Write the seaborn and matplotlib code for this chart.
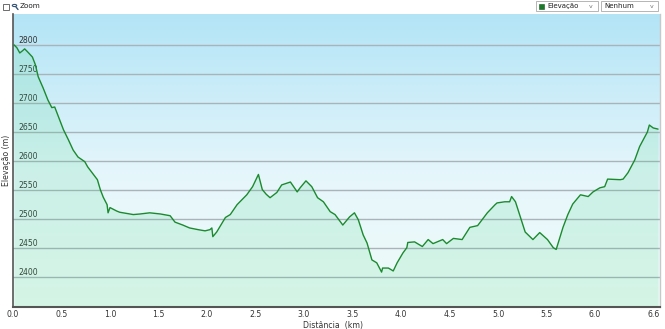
import numpy as np
import pandas as pd
import matplotlib
matplotlib.use("Agg")
import matplotlib.pyplot as plt
from matplotlib.patches import Rectangle, Circle
from matplotlib.lines import Line2D
import seaborn as sns

# ---- data ----
distance_km = [0.01, 0.04, 0.07, 0.10, 0.12, 0.15, 0.20, 0.23, 0.26, 0.31, 0.36, 0.40, 0.43, 0.46,
               0.52, 0.57, 0.62, 0.67, 0.74, 0.77, 0.87, 0.90, 0.93, 0.97, 0.98, 1.00, 1.07, 1.10,
               1.24, 1.31, 1.41, 1.52, 1.62, 1.67, 1.75, 1.82, 1.91, 1.98, 2.03, 2.05, 2.06, 2.10,
               2.19, 2.24, 2.31, 2.41, 2.47, 2.53, 2.57, 2.61, 2.65, 2.72, 2.77, 2.86, 2.93, 2.96,
               3.02, 3.08, 3.14, 3.20, 3.27, 3.32, 3.40, 3.47, 3.52, 3.56, 3.61, 3.65, 3.70, 3.75,
               3.80, 3.81, 3.87, 3.92, 3.96, 4.02, 4.06, 4.07, 4.14, 4.22, 4.28, 4.33, 4.43, 4.47,
               4.54, 4.63, 4.71, 4.79, 4.89, 4.97, 4.99, 5.07, 5.12, 5.14, 5.18, 5.23, 5.28, 5.36,
               5.43, 5.51, 5.57, 5.60, 5.67, 5.72, 5.77, 5.85, 5.93, 5.98, 6.05, 6.10, 6.13, 6.26,
               6.29, 6.34, 6.41, 6.46, 6.54, 6.56, 6.60, 6.65]
elevation_m = [2800, 2795, 2786, 2790, 2793, 2788, 2779, 2766, 2745, 2726, 2705, 2692, 2693, 2680,
               2654, 2637, 2619, 2607, 2599, 2590, 2568, 2551, 2538, 2525, 2511, 2520, 2514, 2512,
               2508, 2509, 2511, 2509, 2506, 2495, 2490, 2485, 2482, 2480, 2482, 2485, 2470, 2478,
               2503, 2508, 2525, 2542, 2556, 2577, 2551, 2543, 2537, 2546, 2559, 2564, 2547, 2554,
               2566, 2556, 2537, 2530, 2513, 2508, 2490, 2504, 2511, 2499, 2473, 2459, 2430, 2425,
               2409, 2416, 2416, 2411, 2425, 2442, 2451, 2460, 2461, 2453, 2465, 2458, 2465, 2458,
               2467, 2465, 2486, 2489, 2511, 2525, 2528, 2530, 2530, 2539, 2530, 2504, 2478, 2465,
               2477, 2465, 2451, 2448, 2486, 2508, 2526, 2542, 2539, 2547, 2554, 2556, 2569, 2568,
               2569, 2580, 2602, 2625, 2650, 2662, 2657, 2655]
x_ticks = [0.0, 0.5, 1.0, 1.5, 2.0, 2.5, 3.0, 3.5, 4.0, 4.5, 5.0, 5.5, 6.0, 6.6]
x_tick_labels = ["0.0", "0.5", "1.0", "1.5", "2.0", "2.5", "3.0", "3.5", "4.0", "4.5",
                 "5.0", "5.5", "6.0", "6.6"]
y_ticks = [2400, 2450, 2500, 2550, 2600, 2650, 2700, 2750, 2800]

df = pd.DataFrame({"Distância (km)": distance_km, "Elevação (m)": elevation_m})

sns.set_theme(style="white")
plt.rcParams["font.family"] = ["DejaVu Sans"]

fig = plt.figure(figsize=(6.65, 3.29), dpi=100)
fig.patch.set_facecolor("white")
ax = fig.add_axes([13 / 665, 22 / 329, 647 / 665, 293 / 329])

xmin, xmax = 0.0, 6.67
ymin, ymax = 2349, 2853
ax.set_xlim(xmin, xmax)
ax.set_ylim(ymin, ymax)

# background gradient (sky blue on top, very pale lower down)
stops = np.array([0.0, 0.55, 1.0])
cols = np.array([[0.70, 0.895, 0.965],
                 [0.90, 0.965, 0.985],
                 [0.94, 0.985, 0.975]])
t = np.linspace(0, 1, 256)
grad = np.stack([np.interp(t, stops, cols[:, k]) for k in range(3)], axis=1)
ax.imshow(grad[:, None, :], extent=[xmin, xmax, ymin, ymax], aspect="auto",
          origin="upper", zorder=0)

# grid lines
for yv in y_ticks:
    ax.axhline(yv, color="#a9b3ba", lw=1.0, zorder=1)

# area under curve
ax.fill_between(df["Distância (km)"], ymin, df["Elevação (m)"], color="#3ed47e",
                alpha=0.15, lw=0, zorder=2)
sns.lineplot(data=df, x="Distância (km)", y="Elevação (m)", ax=ax, color="#1b8a2e",
             lw=1.0, zorder=3)

# axes styling
ax.set_yticks(y_ticks)
ax.set_yticklabels([str(v) for v in y_ticks])
ax.tick_params(axis="y", length=0, pad=-4, labelsize=5.6, labelcolor="#333333")
for lbl in ax.get_yticklabels():
    lbl.set_ha("left")
    lbl.set_va("bottom")
ax.set_xticks(x_ticks)
ax.set_xticklabels(x_tick_labels)
ax.tick_params(axis="x", length=3, width=0.8, color="#555555", direction="inout",
               pad=1.0, labelsize=5.6, labelcolor="#333333")
ax.set_xlabel("Distância  (km)", fontsize=5.6, color="#333333")
ax.set_ylabel("Elevação (m)", fontsize=5.6, color="#333333")
ax.xaxis.set_label_coords(0.495, -0.048)
ax.yaxis.set_label_coords(-0.003, 0.5)
ax.spines["top"].set_visible(False)
ax.spines["right"].set_color("#c8c8c8")
ax.spines["right"].set_linewidth(1.0)
ax.spines["left"].set_color("#555555")
ax.spines["left"].set_linewidth(1.2)
ax.spines["bottom"].set_color("#555555")
ax.spines["bottom"].set_linewidth(1.5)

# top UI elements
W, H = 665, 329
def px(x, y):
    return x / W, 1 - y / H

fig.patches.append(Rectangle(px(3, 10), 6 / W, 6 / H, transform=fig.transFigure,
                             fill=False, ec="#555555", lw=0.6))
# magnifier icon
fig.patches.append(Circle(px(14.5, 5.5), 2.2 / W, transform=fig.transFigure,
                          fill=False, ec="#335577", lw=0.8))
fig.lines.append(Line2D([px(16, 7)[0], px(18, 9.5)[0]], [px(16, 7)[1], px(18, 9.5)[1]],
                        transform=fig.transFigure, color="#335577", lw=1.0))
fig.text(*px(20, 6.5), "Zoom", fontsize=5.2, color="#222222", va="center", ha="left")

# dropdown 1
fig.patches.append(Rectangle(px(536, 11), 62 / W, 10 / H, transform=fig.transFigure,
                             fill=True, fc="white", ec="#aaaaaa", lw=0.6))
fig.patches.append(Rectangle(px(539, 9), 5 / W, 5 / H, transform=fig.transFigure,
                             fill=True, fc="#1a7a2a", ec="#0f5a1a", lw=0.4))
fig.text(*px(547, 6), "Elevação", fontsize=5.0, color="#222222", va="center", ha="left")
fig.text(*px(591, 6), "v", fontsize=4.5, color="#777777", va="center", ha="center")
# dropdown 2
fig.patches.append(Rectangle(px(601, 11), 57 / W, 10 / H, transform=fig.transFigure,
                             fill=True, fc="white", ec="#aaaaaa", lw=0.6))
fig.text(*px(604, 6), "Nenhum", fontsize=5.0, color="#222222", va="center", ha="left")
fig.text(*px(652, 6), "v", fontsize=4.5, color="#777777", va="center", ha="center")

fig.savefig("out.png", dpi=100)
